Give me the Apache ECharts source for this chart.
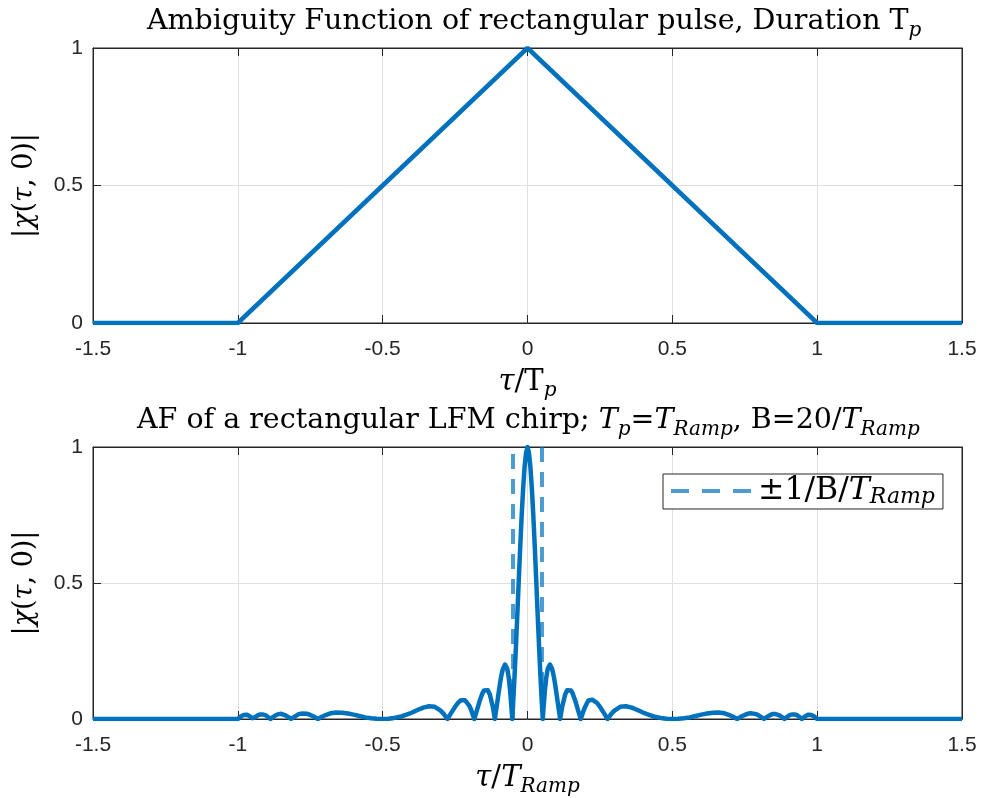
<!DOCTYPE html>
<html>
<head>
<meta charset="utf-8">
<script src="https://cdn.jsdelivr.net/npm/echarts@6/dist/echarts.min.js"></script>
<style>
html,body{margin:0;padding:0;background:#fff;}
#main{width:982px;height:798px;}
</style>
</head>
<body>
<div id="main"></div>
<script>
// ---------- data ----------
const xTicks = [-1.5, -1, -0.5, 0, 0.5, 1, 1.5];
const yTicks = [0, 0.5, 1];

// Top: ambiguity function of rectangular pulse
const pulseTau = [-1.5, -1, 0, 1, 1.5];
const pulseAmp = [0, 0, 1, 0, 0];

// Bottom: AF of rectangular LFM chirp
const chirpCurve = [
  [-1.5,0],[-1,0],[-0.99,0.009],[-0.98,0.015],[-0.975,0.016],[-0.97,0.016],[-0.96,0.011],[-0.95,0.003],
  [-0.9472,0],[-0.94,0.007],[-0.935,0.011],[-0.93,0.014],[-0.9225,0.017],[-0.915,0.017],[-0.91,0.016],
  [-0.905,0.014],[-0.9,0.010],[-0.895,0.007],[-0.8873,0],[-0.88,0.006],[-0.87,0.013],[-0.863,0.017],
  [-0.8564,0.018],[-0.85,0.019],[-0.845,0.018],[-0.835,0.013],[-0.825,0.007],[-0.8162,0],[-0.805,0.008],
  [-0.8,0.012],[-0.79,0.018],[-0.7766,0.020],[-0.77,0.021],[-0.76,0.019],[-0.75,0.015],[-0.74,0.010],
  [-0.7236,0],[-0.71,0.008],[-0.7,0.013],[-0.68,0.021],[-0.66,0.024],[-0.64,0.023],[-0.62,0.020],
  [-0.6,0.016],[-0.58,0.011],[-0.56,0.006],[-0.54,0.003],[-0.52,0.001],[-0.5,0],[-0.48,0.001],
  [-0.46,0.004],[-0.44,0.008],[-0.42,0.015],[-0.4,0.023],[-0.38,0.033],[-0.36,0.042],[-0.34,0.047],
  [-0.32,0.045],[-0.3,0.031],[-0.29,0.020],[-0.2764,0],[-0.26,0.028],[-0.25,0.045],[-0.24,0.059],
  [-0.23,0.069],[-0.2234,0.071],[-0.216,0.069],[-0.21,0.068],[-0.2,0.047],[-0.195,0.035],[-0.1838,0],
  [-0.175,0.031],[-0.165,0.067],[-0.155,0.096],[-0.15,0.105],[-0.1436,0.110],[-0.137,0.106],[-0.13,0.090],
  [-0.12,0.046],[-0.1127,0],[-0.105,0.056],[-0.1,0.094],[-0.095,0.130],[-0.09,0.161],[-0.085,0.184],
  [-0.0775,0.200],[-0.07,0.185],[-0.065,0.154],[-0.06,0.104],[-0.055,0.036],[-0.0528,0],[-0.05,0.050],
  [-0.045,0.151],[-0.04,0.265],[-0.035,0.387],[-0.03,0.513],[-0.025,0.636],[-0.02,0.750],[-0.015,0.849],
  [-0.01,0.927],[-0.005,0.979],
  [0,1],
  [0.005,0.979],[0.01,0.927],[0.015,0.849],[0.02,0.750],[0.025,0.636],[0.03,0.513],[0.035,0.387],
  [0.04,0.265],[0.045,0.151],[0.05,0.050],[0.0528,0],[0.055,0.036],[0.06,0.104],[0.065,0.154],
  [0.07,0.185],[0.0775,0.200],[0.085,0.184],[0.09,0.161],[0.095,0.130],[0.1,0.094],[0.105,0.056],
  [0.1127,0],[0.12,0.046],[0.13,0.090],[0.137,0.106],[0.1436,0.110],[0.15,0.105],[0.155,0.096],
  [0.165,0.067],[0.175,0.031],[0.1838,0],[0.195,0.035],[0.2,0.047],[0.21,0.068],[0.216,0.069],
  [0.2234,0.071],[0.23,0.069],[0.24,0.059],[0.25,0.045],[0.26,0.028],[0.2764,0],[0.29,0.020],
  [0.3,0.031],[0.32,0.045],[0.34,0.047],[0.36,0.042],[0.38,0.033],[0.4,0.023],[0.42,0.015],
  [0.44,0.008],[0.46,0.004],[0.48,0.001],[0.5,0],[0.52,0.001],[0.54,0.003],[0.56,0.006],[0.58,0.011],
  [0.6,0.016],[0.62,0.020],[0.64,0.023],[0.66,0.024],[0.68,0.021],[0.7,0.013],[0.71,0.008],[0.7236,0],
  [0.74,0.010],[0.75,0.015],[0.76,0.019],[0.77,0.021],[0.7766,0.020],[0.79,0.018],[0.8,0.012],
  [0.805,0.008],[0.8162,0],[0.825,0.007],[0.835,0.013],[0.845,0.018],[0.85,0.019],[0.8564,0.018],
  [0.863,0.017],[0.87,0.013],[0.88,0.006],[0.8873,0],[0.895,0.007],[0.9,0.010],[0.905,0.014],
  [0.91,0.016],[0.915,0.017],[0.9225,0.017],[0.93,0.014],[0.935,0.011],[0.94,0.007],[0.9472,0],
  [0.95,0.003],[0.96,0.011],[0.97,0.016],[0.975,0.016],[0.98,0.015],[0.99,0.009],[1,0],[1.5,0]
];

// ±1/B markers (B = 20 / T_Ramp)
const markerTau = [-0.05, 0.05];
const markerSpan = [0, 1];

// ---------- styles ----------
const SERIF = 'DejaVu Serif';
const SANS = 'Liberation Sans';
const AX = '#262626';
const LINE = '#0072BD';
const DASH = 'rgba(0,114,189,0.7)';

function rich(size, lh) {
  const sub = Math.round(size * 0.7);
  const L = lh || size + 10;
  return {
    n: {fontFamily: SERIF, fontWeight: 'normal', fontSize: size, lineHeight: L, color: '#000'},
    i: {fontFamily: SERIF, fontWeight: 'normal', fontStyle: 'italic', fontSize: size, lineHeight: L, color: '#000'},
    s: {fontFamily: SERIF, fontWeight: 'normal', fontStyle: 'italic', fontSize: sub, lineHeight: sub, verticalAlign: 'bottom', color: '#000'}
  };
}

const grids = [
  {left: 93, top: 48, width: 869, height: 275, show: true, borderColor: AX, borderWidth: 1, backgroundColor: '#fff'},
  {left: 93, top: 447, width: 869, height: 273, show: true, borderColor: AX, borderWidth: 1, backgroundColor: '#fff'}
];

function xAxisMain(gi, nameRich) {
  return {
    type: 'value', gridIndex: gi, min: xTicks[0], max: xTicks[xTicks.length - 1], interval: 0.5,
    position: 'bottom',
    axisLine: {show: true, onZero: false, lineStyle: {color: AX, width: 1}},
    axisTick: {show: true, inside: true, length: 8, lineStyle: {color: AX}},
    axisLabel: {show: true, color: AX, fontFamily: SANS, fontSize: 21, margin: 16},
    splitLine: {show: true, lineStyle: {color: '#dfdfdf', width: 1}},
    name: nameRich, nameLocation: 'middle', nameGap: 40,
    nameTextStyle: {rich: rich(29, 38)}
  };
}
function xAxisTop(gi) {
  return {
    type: 'value', gridIndex: gi, min: xTicks[0], max: xTicks[xTicks.length - 1], interval: 0.5,
    position: 'top',
    axisLine: {show: true, onZero: false, lineStyle: {color: AX, width: 1}},
    axisTick: {show: true, inside: true, length: 8, lineStyle: {color: AX}},
    axisLabel: {show: false}, splitLine: {show: false}
  };
}
const yName = '{n||}{i|χ}{n|(}{i|τ}{n|, 0)|}';
function yAxisMain(gi) {
  return {
    type: 'value', gridIndex: gi, min: yTicks[0], max: yTicks[yTicks.length - 1], interval: 0.5,
    position: 'left',
    axisLine: {show: true, onZero: false, lineStyle: {color: AX, width: 1}},
    axisTick: {show: true, inside: true, length: 8, lineStyle: {color: AX}},
    axisLabel: {show: true, color: AX, fontFamily: SANS, fontSize: 21, margin: 10},
    splitLine: {show: true, lineStyle: {color: '#dfdfdf', width: 1}},
    name: yName, nameLocation: 'middle', nameGap: 50, nameRotate: 90,
    nameTextStyle: {rich: rich(27)}
  };
}
function yAxisRight(gi) {
  return {
    type: 'value', gridIndex: gi, min: yTicks[0], max: yTicks[yTicks.length - 1], interval: 0.5,
    position: 'right',
    axisLine: {show: true, onZero: false, lineStyle: {color: AX, width: 1}},
    axisTick: {show: true, inside: true, length: 8, lineStyle: {color: AX}},
    axisLabel: {show: false}, splitLine: {show: false}
  };
}

const legendName = '±1/B/T_Ramp';
const chart = echarts.init(document.getElementById('main'), null, {renderer: 'canvas'});
chart.setOption({
  animation: false,
  backgroundColor: '#fff',
  title: [
    {text: '{n|Ambiguity Function of rectangular pulse, Duration T}{s|p}', left: 142, top: -2,
     textStyle: {fontWeight: 'normal', rich: rich(28.5, 38)}},
    {text: '{n|AF of a rectangular LFM chirp; }{i|T}{s|p}{n|=}{i|T}{s|Ramp}{n|, B=20/}{i|T}{s|Ramp}',
     left: 132, top: 397, textStyle: {fontWeight: 'normal', rich: rich(28.5, 38)}}
  ],
  legend: {
    data: [{name: legendName, itemStyle: {opacity: 0}}],
    left: 663, top: 474, orient: 'horizontal',
    itemWidth: 82, itemHeight: 14, padding: [1, 8, 1, 6], itemGap: 4,
    borderColor: AX, borderWidth: 1, backgroundColor: '#fff',
    itemStyle: {opacity: 0},
    lineStyle: {width: 4, type: [18, 13], cap: 'butt'},
    formatter: function () { return '{n|±1/B/}{i|T}{s|Ramp}'; },
    textStyle: {rich: rich(31.5, 34)}
  },
  grid: grids,
  xAxis: [xAxisMain(0, '{i|τ}{n|/T}{s|p}'), xAxisTop(0), xAxisMain(1, '{i|τ}{n|/}{i|T}{s|Ramp}'), xAxisTop(1)],
  yAxis: [yAxisMain(0), yAxisRight(0), yAxisMain(1), yAxisRight(1)],
  series: [
    {
      type: 'line', name: 'pulse', xAxisIndex: 0, yAxisIndex: 0, showSymbol: false, symbol: 'none',
      data: pulseTau.map((t, k) => [t, pulseAmp[k]]),
      lineStyle: {color: LINE, width: 4.5}, itemStyle: {color: LINE}, z: 3
    },
    {
      type: 'line', name: legendName, xAxisIndex: 2, yAxisIndex: 2, showSymbol: false, symbol: 'none',
      connectNulls: false,
      data: [[markerTau[0], markerSpan[0]], [markerTau[0], markerSpan[1]], '-', [markerTau[1], markerSpan[1]], [markerTau[1], markerSpan[0]]],
      lineStyle: {color: DASH, width: 4, type: [15, 10], cap: 'butt'}, itemStyle: {color: DASH}, z: 2
    },
    {
      type: 'line', name: 'chirp', xAxisIndex: 2, yAxisIndex: 2, showSymbol: false, symbol: 'none',
      data: chirpCurve,
      lineStyle: {color: LINE, width: 4.5, join: 'round'}, itemStyle: {color: LINE}, z: 3
    }
  ]
});
</script>
</body>
</html>
